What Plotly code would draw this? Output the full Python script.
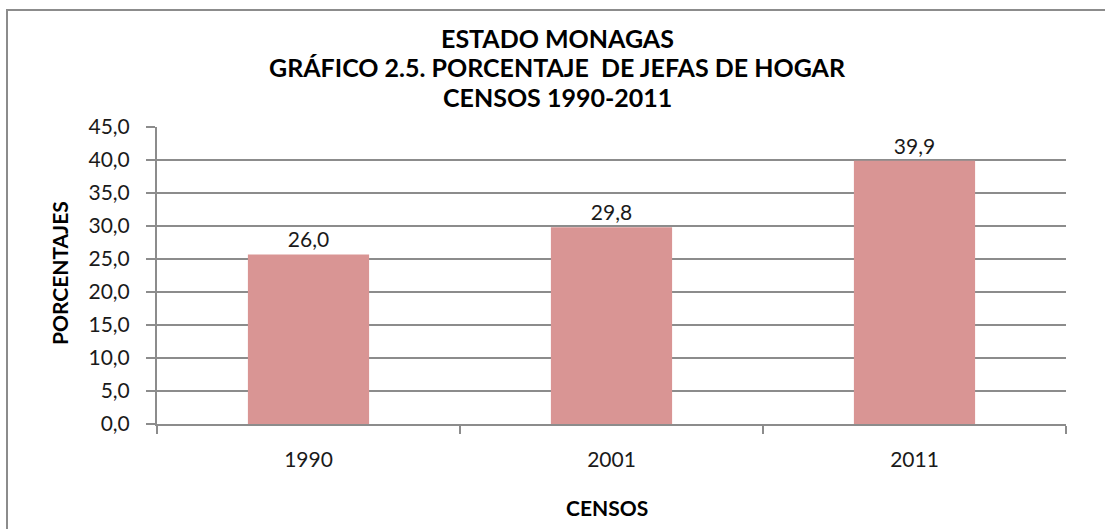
import plotly.graph_objects as go

categories = ["1990", "2001", "2011"]
values = [25.7, 29.8, 39.9]
value_labels = ["26,0", "29,8", "39,9"]
title_lines = ["ESTADO MONAGAS", "GRÁFICO 2.5. PORCENTAJE  DE JEFAS DE HOGAR", "CENSOS 1990-2011"]
y_ticks = [0, 5, 10, 15, 20, 25, 30, 35, 40, 45]

FONT = "Lato"
W, H = 1105, 529
L, R, T, B = 157, 39, 127, 105
pw, ph = W - L - R, H - T - B

def px(x):
    return (x - L) / pw

def py(y):
    return (H - B - y) / ph

fig = go.Figure()
fig.add_trace(go.Bar(
    x=categories, y=values,
    marker=dict(color="#D99594", line=dict(width=0)),
    text=value_labels, textposition="outside", cliponaxis=False,
    textfont=dict(family=FONT, size=21, color="#1a1a1a"),
))

annotations = []
for line, yc in zip(title_lines, [38, 67, 97]):
    annotations.append(dict(text="<b>%s</b>" % line, x=px(557), y=py(yc), xref="paper", yref="paper",
                            showarrow=False, xanchor="center", yanchor="middle",
                            font=dict(family=FONT, size=25, color="#000")))
annotations.append(dict(text="<b>PORCENTAJES</b>", x=px(59), y=py(273), xref="paper", yref="paper",
                        showarrow=False, xanchor="center", yanchor="middle", textangle=-90,
                        font=dict(family=FONT, size=21, color="#000")))
annotations.append(dict(text="<b>CENSOS</b>", x=px(607), y=py(507), xref="paper", yref="paper",
                        showarrow=False, xanchor="center", yanchor="middle",
                        font=dict(family=FONT, size=21, color="#000")))

fig.update_layout(
    width=W, height=H,
    margin=dict(l=L, r=R, t=T, b=B, autoexpand=False),
    paper_bgcolor="white", plot_bgcolor="white",
    separators=",.",
    showlegend=False,
    bargap=0.6,
    annotations=annotations,
    shapes=[dict(type="rect", xref="paper", yref="paper",
                 x0=px(7), x1=px(1112), y0=py(10), y1=py(540),
                 line=dict(color="#8c8c8c", width=2), fillcolor="rgba(0,0,0,0)", layer="below")],
    xaxis=dict(
        automargin=False,
        tickfont=dict(family=FONT, size=21, color="#1a1a1a"),
        showline=True, linecolor="#8c8c8c", linewidth=2,
        ticks="outside", tickson="boundaries", ticklen=8, tickcolor="#8c8c8c", tickwidth=2,
        ticklabelstandoff=16,
        showgrid=False,
    ),
    yaxis=dict(
        automargin=False,
        range=[0, 45], tickvals=y_ticks, tickformat=".1f",
        tickfont=dict(family=FONT, size=21, color="#1a1a1a"),
        showline=True, linecolor="#8c8c8c", linewidth=2,
        ticks="outside", ticklen=9, tickcolor="#8c8c8c", tickwidth=2,
        ticklabelstandoff=12,
        showgrid=True, gridcolor="#8c8c8c", gridwidth=2,
        zeroline=False,
    ),
)

fig.write_html("out.html", config={"displayModeBar": False},
               post_script="document.body.style.margin='0';document.body.style.overflow='hidden';")
